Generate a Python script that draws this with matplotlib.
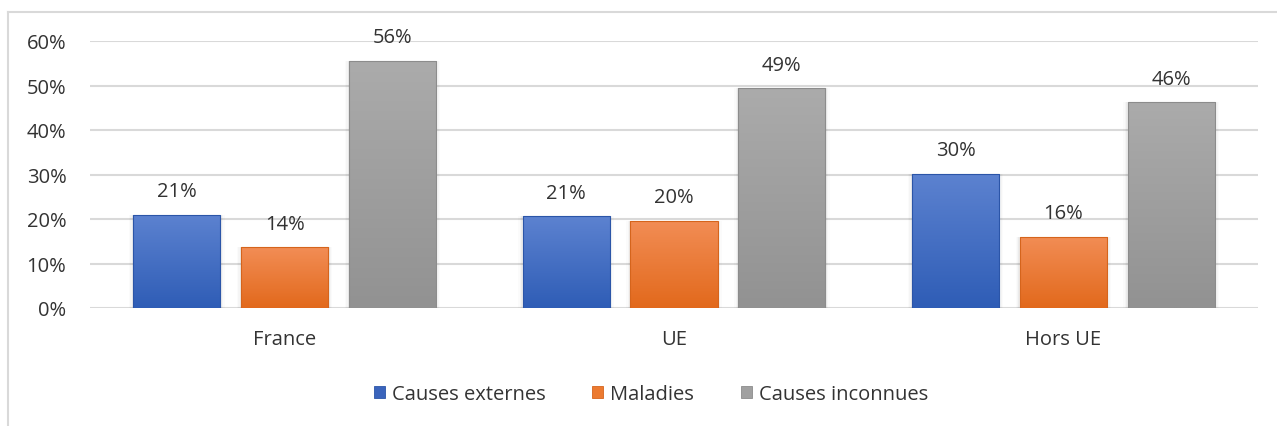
import numpy as np
import matplotlib
matplotlib.use("Agg")
import matplotlib.pyplot as plt
from matplotlib.colors import LinearSegmentedColormap
from matplotlib.patches import Rectangle
from matplotlib.lines import Line2D

plt.rcParams['font.family'] = ['Open Sans', 'DejaVu Sans']

categories = ["France", "UE", "Hors UE"]
series_names = ["Causes externes", "Maladies", "Causes inconnues"]
causes_externes = [21.0, 20.6, 30.2]
maladies = [13.6, 19.6, 16.0]
causes_inconnues = [55.6, 49.4, 46.3]
y_ticks = [0, 10, 20, 30, 40, 50, 60]

values = [causes_externes, maladies, causes_inconnues]
# top / bottom gradient colours for each series
grad = [("#5c82d0", "#2f5db6"), ("#f28d55", "#e2691c"), ("#ababab", "#929292")]
edge = ["#2b55a8", "#d5641c", "#8c8c8c"]
legend_col = ["#3a64bc", "#ec7a30", "#a0a0a0"]
text_col = "#333333"
grid_col = "#d9d9d9"
fs = 14.5

fig = plt.figure(figsize=(12.77, 4.27), dpi=100)
ax = fig.add_axes([90 / 1277, 1 - 309 / 427, (1258 - 90) / 1277, (309 - 42) / 427])

# chart frame (partially visible)
fig.add_artist(Line2D([8 / 1277, 1], [1 - 13 / 427] * 2, color=grid_col, lw=1.5, transform=fig.transFigure))
fig.add_artist(Line2D([8 / 1277] * 2, [0, 1 - 13 / 427], color=grid_col, lw=1.5, transform=fig.transFigure))

n = len(categories)
x = np.arange(n)
width = 0.224
step = 0.277

for yt in y_ticks:
    ax.axhline(yt, color=grid_col, lw=1.5, zorder=0)

for s, vals in enumerate(values):
    cmap = LinearSegmentedColormap.from_list(f"g{s}", [grad[s][1], grad[s][0]])
    for i, v in enumerate(vals):
        x0 = x[i] + (s - 1) * step - width / 2
        # soft side shadow
        for k, a in enumerate([0.04, 0.025, 0.015]):
            d = 0.0035 * (k + 1)
            sh = Rectangle((x0 - d, 0), width + 2 * d, v, facecolor="black",
                           alpha=a, edgecolor="none", zorder=1)
            ax.add_patch(sh)
        rect = Rectangle((x0, 0), width, v, facecolor="none", edgecolor=edge[s], lw=0.8, zorder=3)
        ax.add_patch(rect)
        img = ax.imshow(np.linspace(0, 1, 100).reshape(-1, 1), cmap=cmap, origin="lower",
                        extent=(x0, x0 + width, 0, v), aspect="auto", zorder=2)
        img.set_clip_path(rect)
        ax.text(x0 + width / 2, v + 3.0, f"{v:.0f}%", ha="center", va="bottom",
                fontsize=fs, color=text_col, zorder=4)

ax.set_xlim(-0.5, n - 0.5)
ax.set_ylim(0, 60)
ax.set_yticks(y_ticks)
ax.set_yticklabels([f"{t}%" for t in y_ticks])
ax.set_xticks(x)
ax.set_xticklabels(categories)
ax.tick_params(axis="y", length=0, pad=17, labelsize=fs, labelcolor=text_col)
ax.tick_params(axis="x", length=0, pad=15, labelsize=fs, labelcolor=text_col)
for sp in ax.spines.values():
    sp.set_visible(False)

handles = [Rectangle((0, 0), 1, 1, facecolor=legend_col[s], edgecolor=edge[s], lw=0.6)
           for s in range(len(series_names))]
leg = fig.legend(handles, series_names, loc="center", bbox_to_anchor=(651 / 1277, 1 - 395 / 427),
                 ncol=3, frameon=False, fontsize=fs, handlelength=0.55, handleheight=0.55,
                 handletextpad=0.35, columnspacing=2.3)
for t in leg.get_texts():
    t.set_color(text_col)

fig.savefig("out.png", dpi=100, facecolor="white")
